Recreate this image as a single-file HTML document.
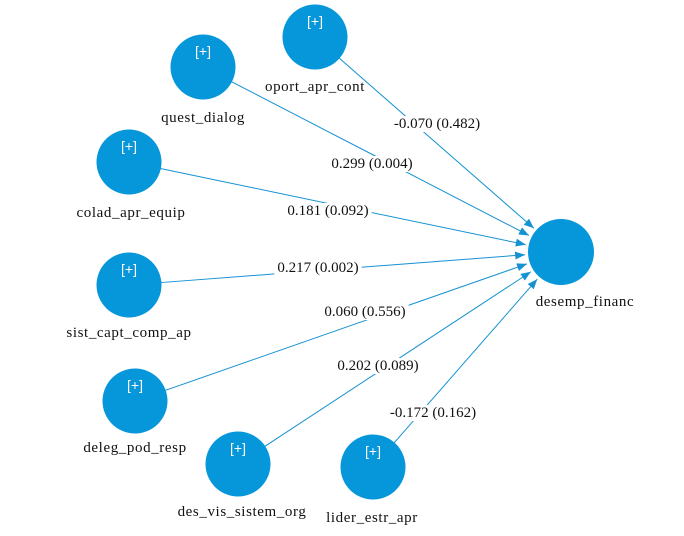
<!DOCTYPE html>
<html><head><meta charset="utf-8"><style>
html,body{margin:0;padding:0;background:#fff;}
svg{display:block;}
text{font-family:"Liberation Serif",serif;font-size:15px;fill:#111;}
.l{letter-spacing:0.6px;}
.p{font-family:"Liberation Sans",sans-serif;font-size:14px;fill:#fff;}
</style></head><body>
<svg id="s" width="684" height="536" viewBox="0 0 684 536" xmlns="http://www.w3.org/2000/svg">
<defs><marker id="a" markerWidth="10" markerHeight="8" refX="10" refY="4" orient="auto" markerUnits="userSpaceOnUse"><path d="M0,0 L10,4 L0,8 z" fill="#1592d2"/></marker></defs>
<g id="e"></g><g id="n"></g>
</svg>
<script>
var T={x:561,y:252,r:33};
var N=[
[315,37,"oport_apr_cont",315,91,"-0.070 (0.482)",437,128],
[203,67,"quest_dialog",203,122,"0.299 (0.004)",372,168],
[129,162,"colad_apr_equip",131,217,"0.181 (0.092)",328,215],
[129,285,"sist_capt_comp_ap",129,337,"0.217 (0.002)",318,272],
[135,401,"deleg_pod_resp",135,452,"0.060 (0.556)",365,316],
[238,464,"des_vis_sistem_org",242,516,"0.202 (0.089)",378,370],
[373,467,"lider_estr_apr",372,522,"-0.172 (0.162)",433,417]
];
var ns="http://www.w3.org/2000/svg",E=document.getElementById('e'),G=document.getElementById('n');
function el(t,a,p,txt){var e=document.createElementNS(ns,t);for(var k in a)e.setAttribute(k,a[k]);if(txt)e.textContent=txt;p.appendChild(e);return e;}
N.forEach(function(d){
 var dx=T.x-d[0],dy=T.y-d[1],L=Math.hypot(dx,dy),ux=dx/L,uy=dy/L;
 el('line',{x1:d[0]+ux*32,y1:d[1]+uy*32,x2:T.x-ux*(T.r+3),y2:T.y-uy*(T.r+3),stroke:'#1592d2','stroke-width':1,'marker-end':'url(#a)'},E);
 var t=el('text',{x:d[6],y:d[7],'text-anchor':'middle'},E,d[5]);
 var b=t.getBBox();var r=el('rect',{x:b.x-3,y:b.y,width:b.width+6,height:b.height,fill:'#fff'},E);E.insertBefore(r,t);
 el('circle',{cx:d[0],cy:d[1],r:32.5,fill:'#0696da'},G);
 el('text',{x:d[0],y:d[1]-11,'text-anchor':'middle','class':'p'},G,'[+]');
 el('text',{x:d[3],y:d[4],'text-anchor':'middle','class':'l'},G,d[2]);
});
el('circle',{cx:T.x,cy:T.y,r:T.r,fill:'#0696da'},G);
el('text',{x:585,y:306,'text-anchor':'middle','class':'l'},G,'desemp_financ');
</script>
</body></html>
